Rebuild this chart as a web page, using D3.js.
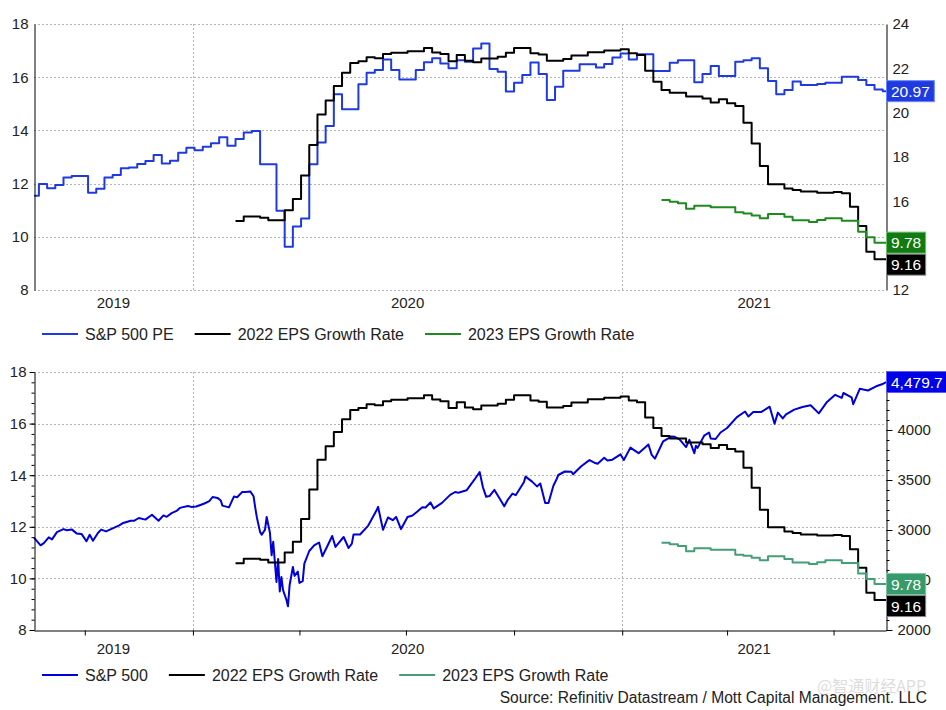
<!DOCTYPE html>
<html>
<head>
<meta charset="utf-8">
<title>S&amp;P 500 PE and EPS Growth</title>
<script src="https://d3js.org/d3.v7.min.js"></script>
<style>
	body { margin: 0; background: #fff; }
	svg { display: block; font-family: "Liberation Sans", Arial, sans-serif; }
</style>
</head>
<body>
<script>
	// DATA
	var startDate = "2019-08-19", endDate = "2021-08-16";
	var years = ["2019", "2020", "2021"];
	var quarterTicks = ["2019-10-01", "2020-01-01", "2020-04-01", "2020-07-01", "2020-10-01",
		"2021-01-01", "2021-04-01", "2021-07-01"];
	var leftTicks = [8, 10, 12, 14, 16, 18];
	var peTicks = [12, 14, 16, 18, 20, 22, 24];
	var spxTicks = [2000, 2500, 3000, 3500, 4000, 4500];

	// S&P 500 forward PE (weekly)
	var peDates = ["2019-08-19","2019-08-22","2019-08-29","2019-09-05","2019-09-12","2019-09-19","2019-10-03","2019-10-10","2019-10-17","2019-10-24","2019-10-31","2019-11-07","2019-11-14","2019-11-21","2019-11-28","2019-12-05","2019-12-12","2019-12-19","2019-12-26",
		"2020-01-02","2020-01-09","2020-01-16","2020-01-23","2020-01-30","2020-02-06","2020-02-13","2020-02-20","2020-02-27","2020-03-12","2020-03-19","2020-03-26","2020-04-02","2020-04-09","2020-04-16","2020-04-23","2020-04-30","2020-05-07","2020-05-21","2020-05-28","2020-06-04","2020-06-11","2020-06-18","2020-06-25","2020-07-09","2020-07-16","2020-07-23","2020-07-30","2020-08-06","2020-08-13","2020-08-20","2020-08-27","2020-09-03","2020-09-10","2020-09-17","2020-09-24","2020-10-01","2020-10-08","2020-10-15","2020-10-22","2020-10-29","2020-11-05","2020-11-12","2020-11-26","2020-12-10","2020-12-17","2020-12-24","2020-12-31",
		"2021-01-07","2021-01-14","2021-01-28","2021-02-11","2021-02-18","2021-03-04","2021-03-11","2021-03-18","2021-03-25","2021-04-08","2021-04-15","2021-04-22","2021-04-29","2021-05-06","2021-05-13","2021-05-20","2021-05-27","2021-06-03","2021-06-17","2021-06-24","2021-07-08","2021-07-22","2021-07-29","2021-08-05","2021-08-12"];
	var peValues = [16.25,16.78,16.59,16.74,17.08,17.14,16.39,16.57,17.08,17.19,17.49,17.53,17.68,17.82,18.09,17.71,17.83,18.19,18.42,
		18.31,18.46,18.62,18.89,18.51,18.81,19.11,19.17,17.67,15.58,13.95,14.86,15.22,17.67,18.65,19.40,20.83,20.15,21.28,21.80,21.92,22.40,21.92,21.50,21.92,22.27,22.45,22.22,22.00,22.37,22.30,22.90,23.12,21.97,21.85,20.95,21.35,21.70,22.26,21.74,20.57,21.17,21.89,22.18,22.04,22.19,22.49,22.67,
		22.40,22.63,21.88,22.25,22.37,21.37,21.74,22.10,21.65,22.30,22.37,22.45,22.00,21.43,20.83,21.02,21.41,21.25,21.29,21.35,21.62,21.47,21.25,21.05,20.97];

	// 2022 EPS growth rate
	var eps22Dates = ["2020-02-06","2020-02-13","2020-02-27","2020-03-05","2020-03-19","2020-03-26","2020-04-02","2020-04-09","2020-04-16","2020-04-23","2020-04-30","2020-05-07","2020-05-14","2020-05-21","2020-05-28","2020-06-04","2020-06-11","2020-06-18","2020-07-02","2020-07-16","2020-07-23","2020-07-30","2020-08-06","2020-08-13","2020-08-20","2020-08-27","2020-09-03","2020-09-17","2020-09-24","2020-10-01","2020-10-15","2020-10-22","2020-10-29","2020-11-12","2020-11-19","2020-12-03","2020-12-17","2020-12-31",
		"2021-01-07","2021-01-14","2021-01-21","2021-01-28","2021-02-04","2021-02-11","2021-02-25","2021-03-11","2021-03-18","2021-03-25","2021-04-01","2021-04-08","2021-04-15","2021-04-22","2021-04-29","2021-05-06","2021-05-20","2021-05-27","2021-06-03","2021-06-17","2021-07-01","2021-07-08","2021-07-15","2021-07-22","2021-07-29","2021-08-05"];
	var eps22Values = [10.59,10.76,10.72,10.62,11.0,11.42,12.3,13.45,14.6,15.12,15.67,16.17,16.53,16.6,16.75,16.71,16.87,16.92,16.98,17.1,16.93,16.87,16.6,16.83,16.62,16.56,16.7,16.77,16.92,17.1,16.9,16.85,16.62,16.68,16.82,16.94,17.0,17.05,
		16.9,16.83,16.24,15.83,15.52,15.42,15.27,15.2,15.05,15.17,15.02,14.92,14.29,13.51,12.66,11.98,11.82,11.76,11.70,11.66,11.68,11.64,11.13,10.41,9.44,9.16];

	// 2023 EPS growth rate
	var eps23Dates = ["2021-02-04","2021-02-11","2021-02-18","2021-02-25","2021-03-04","2021-03-18","2021-04-08","2021-04-15","2021-04-22","2021-04-29","2021-05-06","2021-05-20","2021-05-27","2021-06-10","2021-06-17","2021-06-24","2021-07-08","2021-07-22","2021-07-29","2021-08-05"];
	var eps23Values = [11.38,11.32,11.26,11.05,11.17,11.11,10.92,10.88,10.80,10.70,10.86,10.75,10.62,10.56,10.63,10.70,10.60,10.19,9.98,9.78];

	// S&P 500 index
	var spxDates = ["2019-08-19","2019-08-23","2019-08-27","2019-08-30","2019-09-03","2019-09-06","2019-09-12","2019-09-16","2019-09-19","2019-09-24","2019-09-27","2019-10-02","2019-10-04","2019-10-08","2019-10-11","2019-10-15","2019-10-18","2019-10-25","2019-10-30","2019-11-01","2019-11-08","2019-11-12","2019-11-15","2019-11-21","2019-11-27","2019-12-03","2019-12-06","2019-12-10","2019-12-13","2019-12-18","2019-12-20","2019-12-27","2019-12-31",
		"2020-01-03","2020-01-08","2020-01-10","2020-01-15","2020-01-17","2020-01-22","2020-01-24","2020-01-27","2020-01-31","2020-02-05","2020-02-07","2020-02-12","2020-02-14","2020-02-19","2020-02-21","2020-02-24","2020-02-25","2020-02-27","2020-02-28","2020-03-03","2020-03-04","2020-03-06","2020-03-09","2020-03-10","2020-03-12","2020-03-13","2020-03-16","2020-03-17","2020-03-18","2020-03-20","2020-03-23","2020-03-24","2020-03-26","2020-03-27","2020-03-31","2020-04-01","2020-04-03","2020-04-06","2020-04-09","2020-04-14","2020-04-17","2020-04-21","2020-04-24","2020-04-29","2020-05-01","2020-05-08","2020-05-13","2020-05-15","2020-05-18","2020-05-22","2020-05-29","2020-06-05","2020-06-08","2020-06-11","2020-06-12","2020-06-16","2020-06-19","2020-06-23","2020-06-26","2020-07-02","2020-07-07","2020-07-10","2020-07-15","2020-07-17","2020-07-22","2020-07-24","2020-07-31","2020-08-07","2020-08-12","2020-08-14","2020-08-21","2020-08-28","2020-09-02","2020-09-04","2020-09-08","2020-09-10","2020-09-15","2020-09-18","2020-09-23","2020-09-25","2020-09-30","2020-10-02","2020-10-09","2020-10-12","2020-10-16","2020-10-21","2020-10-23","2020-10-28","2020-10-30","2020-11-04","2020-11-06","2020-11-09","2020-11-13","2020-11-19","2020-11-20","2020-11-27","2020-12-04","2020-12-09","2020-12-11","2020-12-17","2020-12-21","2020-12-24","2020-12-31",
		"2021-01-04","2021-01-08","2021-01-12","2021-01-15","2021-01-22","2021-01-25","2021-01-27","2021-01-29","2021-02-05","2021-02-12","2021-02-16","2021-02-19","2021-02-25","2021-03-01","2021-03-04","2021-03-05","2021-03-08","2021-03-12","2021-03-17","2021-03-18","2021-03-23","2021-03-26","2021-04-01","2021-04-09","2021-04-16","2021-04-20","2021-04-23","2021-04-30","2021-05-07","2021-05-12","2021-05-14","2021-05-19","2021-05-21","2021-05-28","2021-06-04","2021-06-11","2021-06-18","2021-06-25","2021-07-02","2021-07-08","2021-07-09","2021-07-16","2021-07-19","2021-07-23","2021-07-30","2021-08-06","2021-08-12","2021-08-16"];
	var spxValues = [2923,2847,2869,2926,2906,2979,3009,2998,3006,2966,2961,2887,2952,2893,2970,3004,2986,3023,3047,3067,3093,3092,3120,3104,3153,3093,3146,3132,3169,3191,3221,3240,3231,
		3235,3253,3265,3289,3330,3321,3295,3244,3226,3334,3328,3379,3380,3386,3338,3226,3128,2979,2954,3003,3130,2972,2747,2882,2481,2711,2386,2529,2398,2305,2237,2447,2630,2541,2585,2471,2489,2664,2790,2846,2875,2737,2837,2940,2831,2930,2820,2864,2954,2955,3044,3194,3232,3002,3041,3125,3098,3131,3009,3130,3145,3185,3227,3225,3276,3216,3271,3351,3380,3373,3397,3508,3580,3427,3332,3339,3401,3319,3237,3298,3363,3348,3477,3534,3484,3436,3465,3271,3270,3443,3510,3550,3585,3582,3557,3638,3699,3673,3663,3722,3694,3703,3756,
		3700,3824,3801,3768,3841,3855,3751,3714,3887,3934,3932,3907,3829,3901,3768,3842,3821,3943,3975,3915,3910,3975,4020,4129,4185,4135,4180,4181,4233,4063,4174,4116,4156,4204,4230,4247,4166,4281,4352,4321,4370,4327,4258,4412,4395,4437,4460,4479.7];

	// SET UP SVG
	var width = 946, height = 710;
	var plotLeft = 34, plotRight = 886;
	var svg = d3.select("body").append("svg")
		.attr("width", width)
		.attr("height", height);

	// the x axis runs on trading days (weekends skipped)
	var parse = d3.timeParse("%Y-%m-%d");
	function bday(s) {
		var d = parse(s);
		var days = Math.round((Date.UTC(d.getFullYear(), d.getMonth(), d.getDate()) - Date.UTC(2019, 0, 7)) / 864e5);
		var wk = Math.floor(days / 7);
		return wk * 5 + Math.min(days - wk * 7, 5);
	}
	var x = d3.scaleLinear()
		.domain([bday(startDate), bday(endDate)])
		.range([plotLeft, plotRight]);

	function styleAxis(g) {
		g.attr("font-size", 15).attr("font-family", "'Liberation Sans', Arial, sans-serif").attr("color", "#222");
		g.select(".domain").attr("stroke", "#000");
		g.selectAll(".tick line").attr("stroke", "#000");
	}

	function drawPanel(p) {
		var yL = d3.scaleLinear().domain([8, 18]).range([p.bottom, p.top]);
		var yR = d3.scaleLinear().domain(p.rightDomain).range([p.bottom, p.top]);
		var g = svg.append("g");

		// grid lines
		g.selectAll(".hgrid")
			.data(leftTicks.filter(function(v) { return !(p.ticks && v == 8); }))
			.enter().append("line")
			.attr("x1", plotLeft).attr("x2", plotRight)
			.attr("y1", function(d) { return Math.round(yL(d)) + 0.5; })
			.attr("y2", function(d) { return Math.round(yL(d)) + 0.5; })
			.attr("stroke", "#b4b4b4").attr("stroke-dasharray", "2,2");
		g.selectAll(".vgrid")
			.data(["2020-01-01", "2021-01-01"])
			.enter().append("line")
			.attr("x1", function(d) { return Math.round(x(bday(d))) + 0.5; })
			.attr("x2", function(d) { return Math.round(x(bday(d))) + 0.5; })
			.attr("y1", p.top).attr("y2", p.bottom)
			.attr("stroke", "#b4b4b4").attr("stroke-dasharray", "2,2");

		// series
		p.series.forEach(function(s) {
			var ys = s.side == "left" ? yL : yR;
			var pts = s.dates.map(function(d, i) { return [x(bday(d)), ys(s.values[i])]; });
			if (s.step) pts.push([plotRight, pts[pts.length - 1][1]]);
			g.append("path")
				.attr("d", d3.line().curve(s.step ? d3.curveStepAfter : d3.curveLinear)(pts))
				.attr("fill", "none")
				.attr("stroke", s.color)
				.attr("stroke-width", 2)
				.attr("stroke-linejoin", "round");
		});

		// axes
		g.append("g").attr("transform", "translate(" + (plotLeft + 0.5) + ",0)")
			.call(d3.axisLeft(yL).tickValues(leftTicks).tickSize(p.ticks ? 5 : 0).tickPadding(p.ticks ? 3 : 6).tickSizeOuter(0))
			.call(styleAxis);
		g.append("g").attr("transform", "translate(" + (plotRight + 0.5) + ",0)")
			.call(d3.axisRight(yR).tickValues(p.rightTicks).tickSize(p.ticks ? 6 : 0).tickPadding(p.ticks ? 5 : 6).tickSizeOuter(0).tickFormat(d3.format("d")))
			.call(styleAxis);
		if (p.ticks) {
			g.append("g").attr("transform", "translate(" + (plotLeft + 0.5) + ",0)")
				.call(d3.axisLeft(yL).tickValues(d3.range(8, 18.01, 0.4)).tickSize(3).tickFormat(""))
				.call(styleAxis).select(".domain").remove();
			g.append("g").attr("transform", "translate(" + (plotRight + 0.5) + ",0)")
				.call(d3.axisRight(yR).tickValues(d3.range(p.rightDomain[0], p.rightDomain[1], 100)).tickSize(3).tickFormat(""))
				.call(styleAxis).select(".domain").remove();
			g.append("g").attr("transform", "translate(0," + (p.bottom + 0.5) + ")")
				.call(d3.axisBottom(x).tickValues(quarterTicks.map(bday)).tickSize(5).tickFormat("").tickSizeOuter(0))
				.call(styleAxis);
		}

		// year labels, centred in the visible part of each year
		years.forEach(function(yr) {
			var a = Math.max(plotLeft, x(bday(yr + "-01-01")));
			var b = Math.min(plotRight, x(bday((+yr + 1) + "-01-01")));
			g.append("text").text(yr)
				.attr("x", (a + b) / 2).attr("y", p.yearY).attr("dy", "0.35em")
				.attr("text-anchor", "middle").attr("font-size", 15).attr("fill", "#222");
		});

		// last value boxes on the right axis
		var boxes = p.labels.map(function(l) {
			var s = p.series[l.series];
			var v = s.values[s.values.length - 1];
			return { y: (s.side == "left" ? yL : yR)(v), text: l.format(v), fill: l.fill, stroke: l.stroke };
		}).sort(function(a, b) { return a.y - b.y; });
		for (var i = 1; i < boxes.length; i++) {
			if (boxes[i].y < boxes[i - 1].y + 22) boxes[i].y = boxes[i - 1].y + 22;
		}
		boxes.forEach(function(bx) {
			var lg = g.append("g");
			var rect = lg.append("rect");
			var t = lg.append("text").text(bx.text)
				.attr("x", plotRight + 5).attr("y", bx.y).attr("dy", "0.36em")
				.attr("font-size", 15.5).attr("fill", "#fff");
			var w = t.node().getComputedTextLength();
			rect.attr("x", plotRight + 0.5).attr("y", bx.y - 10.5)
				.attr("width", w + 9).attr("height", 21)
				.attr("fill", bx.fill).attr("stroke", bx.stroke);
		});

		// legend
		var lx = 42;
		p.series.forEach(function(s) {
			g.append("line").attr("x1", lx).attr("x2", lx + 36)
				.attr("y1", p.legendY).attr("y2", p.legendY)
				.attr("stroke", s.color).attr("stroke-width", 2);
			var t = g.append("text").text(s.name)
				.attr("x", lx + 43).attr("y", p.legendY).attr("dy", "0.35em")
				.attr("font-size", 16).attr("fill", "#222");
			lx += 43 + t.node().getComputedTextLength() + 21;
		});
	}

	var fmt2 = d3.format(".2f");

	// TOP PANEL: PE vs EPS growth
	drawPanel({
		top: 24, bottom: 290, rightDomain: [12, 24], rightTicks: peTicks, ticks: false,
		yearY: 303, legendY: 334,
		series: [
			{ name: "S&P 500 PE", dates: peDates, values: peValues, side: "right", color: "#1f3be0", step: true },
			{ name: "2022 EPS Growth Rate", dates: eps22Dates, values: eps22Values, side: "left", color: "#000", step: true },
			{ name: "2023 EPS Growth Rate", dates: eps23Dates, values: eps23Values, side: "left", color: "#1f8a1f", step: true }
		],
		labels: [
			{ series: 0, format: fmt2, fill: "#1f3be0", stroke: "#6a86ff" },
			{ series: 2, format: fmt2, fill: "#117a11", stroke: "#6cbf6c" },
			{ series: 1, format: fmt2, fill: "#000", stroke: "#888" }
		]
	});

	// BOTTOM PANEL: index vs EPS growth
	drawPanel({
		top: 372, bottom: 630, rightDomain: [2000, 4580], rightTicks: spxTicks, ticks: true,
		yearY: 649, legendY: 675,
		series: [
			{ name: "S&P 500", dates: spxDates, values: spxValues, side: "right", color: "#0000d8", step: false },
			{ name: "2022 EPS Growth Rate", dates: eps22Dates, values: eps22Values, side: "left", color: "#000", step: true },
			{ name: "2023 EPS Growth Rate", dates: eps23Dates, values: eps23Values, side: "left", color: "#449f78", step: true }
		],
		labels: [
			{ series: 0, format: d3.format(",.1f"), fill: "#0000e6", stroke: "#5a5aff" },
			{ series: 2, format: fmt2, fill: "#379a6b", stroke: "#7cc4a0" },
			{ series: 1, format: fmt2, fill: "#000", stroke: "#888" }
		]
	});

	svg.append("text").text("Source: Refinitiv Datastream / Mott Capital Management. LLC")
		.attr("x", 927).attr("y", 698).attr("dy", "0.35em")
		.attr("text-anchor", "end").attr("font-size", 15.6).attr("fill", "#222");
	svg.append("text").text("@智通财经APP")
		.attr("x", 817).attr("y", 686).attr("dy", "0.35em")
		.attr("font-family", "'Noto Sans CJK SC', sans-serif")
		.attr("font-size", 16).attr("fill", "#c8c8c8").attr("opacity", 0.6);
</script>
</body>
</html>
